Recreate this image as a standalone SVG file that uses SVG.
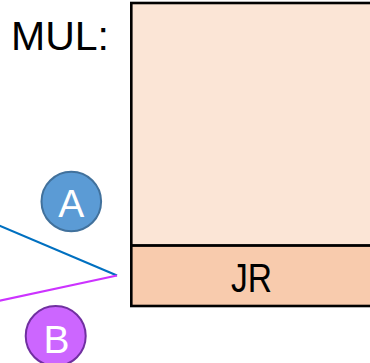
<svg xmlns="http://www.w3.org/2000/svg" width="370" height="363" viewBox="0 0 370 363">
  <style>
    .lbl { font-family: "Liberation Sans", Arial, sans-serif; font-size: 40px; }
    .box { stroke: #000000; stroke-width: 2.6; }
    .badge-text { font-family: "Liberation Sans", Arial, sans-serif; font-size: 39px; fill: #ffffff; text-anchor: middle; }
    .wire { fill: none; stroke-width: 2.2; }
  </style>

  <!-- title -->
  <text class="lbl" x="11" y="50" fill="#000000" textLength="98" lengthAdjust="spacingAndGlyphs">MUL:</text>

  <!-- instruction slot -->
  <g id="slot">
    <rect class="box" x="131.3" y="3" width="250" height="242.6" fill="#FBE5D6"/>
    <rect class="box" x="131.3" y="245.6" width="250" height="60.4" fill="#F8CBAD"/>
    <text class="lbl" x="231" y="291.5" fill="#000000" textLength="41" lengthAdjust="spacingAndGlyphs">JR</text>
  </g>

  <!-- incoming wires -->
  <g id="connectors">
    <line class="wire" x1="-2" y1="225" x2="117" y2="275.5" stroke="#0070C0"/>
    <line class="wire" x1="-2" y1="301" x2="117" y2="275.5" stroke="#CC33FF"/>
  </g>

  <g id="badge-a">
    <circle cx="71.3" cy="201.5" r="29.8" fill="#5B9BD5" stroke="#41719C" stroke-width="2"/>
    <text class="badge-text" x="71.3" y="216.5">A</text>
  </g>

  <g id="badge-b">
    <circle cx="55.7" cy="336" r="30" fill="#CC66FF" stroke="#7030A0" stroke-width="2"/>
    <text class="badge-text" x="56.5" y="352.5">B</text>
  </g>
</svg>
